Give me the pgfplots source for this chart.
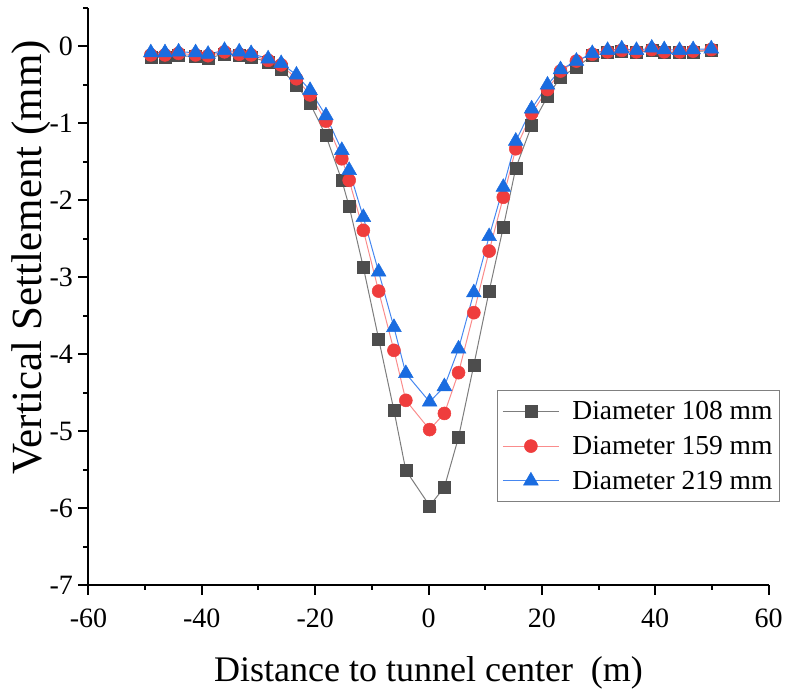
\documentclass[border=0pt]{standalone}
\usepackage{fontspec}
\setmainfont{Liberation Serif}
\usepackage{pgfplots}
\pgfplotsset{compat=1.18}

\definecolor{sqfill}{RGB}{77,77,77}
\definecolor{sqline}{RGB}{125,125,125}
\definecolor{cifill}{RGB}{239,61,61}
\definecolor{ciline}{RGB}{250,140,140}
\definecolor{trfill}{RGB}{26,108,224}
\definecolor{trline}{RGB}{70,135,240}

\begin{document}
\begin{tikzpicture}
\useasboundingbox (-88.5pt,-105pt) rectangle (696.5pt,585pt);
\begin{axis}[
  at={(0pt,0pt)}, anchor=south west,
  scale only axis, width=680pt, height=577pt,
  xmin=-60, xmax=60, ymin=-7, ymax=0.5,
  xtick={-60,-40,...,60}, ytick={-7,-6,...,0},
  minor xtick={-50,-30,...,50},
  minor ytick={-6.5,-5.5,...,0.5},
  axis x line*=bottom, axis y line*=left,
  axis line style={-, line width=2pt, black},
  tick align=outside,
  major tick length=10pt, minor tick length=5pt,
  every tick/.style={line width=2pt, black},
  /pgf/number format/assume math mode=true,
  ticklabel style={font=\fontsize{28}{28}\selectfont},
  xticklabel style={yshift=-10pt},
  yticklabel style={xshift=-2pt},
  xlabel={Distance to tunnel center\ \ (m)},
  ylabel={Vertical Settlement (mm)},
  xlabel style={font=\fontsize{36}{36}\selectfont, at={(axis description cs:0.5,-0.1681)}, anchor=base},
  ylabel style={font=\fontsize{43}{43}\selectfont, at={(axis description cs:-0.0688,0.568)}, anchor=base, rotate=0},
  legend style={at={(axis description cs:1.0169,0.338)}, anchor=north east,
    draw=gray, line width=1pt, fill=white,
    font=\fontsize{27.5}{27.5}\selectfont,
    row sep=11pt,
    /tikz/every odd column/.append style={column sep=11pt},
    cells={anchor=west}, inner xsep=5pt, inner ysep=9pt},
  legend image code/.code={\draw[mark repeat=2,mark phase=2] plot coordinates {(0pt,0pt) (28pt,0pt) (56pt,0pt)};},
  clip=false
]
\addplot[sqline, line width=1pt, mark=square*, mark size=6pt, mark options={draw=sqfill, fill=sqfill, line width=0.5pt}]
coordinates {
(-49.0,-0.14) (-46.5,-0.14) (-44.1,-0.12) (-41.1,-0.13) (-38.9,-0.15) (-36.0,-0.10)
(-33.4,-0.12) (-31.3,-0.14) (-28.3,-0.20) (-26.0,-0.30) (-23.3,-0.50) (-20.9,-0.74)
(-18.1,-1.16) (-15.3,-1.74) (-14.0,-2.08) (-11.5,-2.87) (-8.8,-3.80) (-6.1,-4.73)
(-4.0,-5.51) (0.2,-5.97) (2.8,-5.73) (5.3,-5.08) (8.0,-4.14) (10.7,-3.18)
(13.2,-2.35) (15.4,-1.58) (18.2,-1.03) (21.0,-0.65) (23.3,-0.40) (26.1,-0.27)
(28.9,-0.12) (31.6,-0.08) (34.1,-0.06) (36.7,-0.08) (39.4,-0.05) (41.6,-0.08)
(44.3,-0.08) (46.7,-0.07) (49.9,-0.05)
};
\addlegendentry{Diameter 108 mm}
\addplot[ciline, line width=1pt, mark=*, mark size=6.5pt, mark options={draw=cifill, fill=cifill, line width=0.5pt}]
coordinates {
(-49.0,-0.11) (-46.5,-0.11) (-44.1,-0.09) (-41.1,-0.11) (-38.9,-0.12) (-36.0,-0.07)
(-33.4,-0.10) (-31.3,-0.11) (-28.3,-0.18) (-26.0,-0.24) (-23.3,-0.42) (-20.9,-0.63)
(-18.1,-0.97) (-15.3,-1.46) (-14.0,-1.74) (-11.5,-2.39) (-8.8,-3.18) (-6.1,-3.95)
(-4.0,-4.60) (0.2,-4.98) (2.8,-4.77) (5.3,-4.24) (8.0,-3.46) (10.7,-2.66)
(13.2,-1.96) (15.4,-1.33) (18.2,-0.87) (21.0,-0.56) (23.3,-0.32) (26.1,-0.19)
(28.9,-0.10) (31.6,-0.07) (34.1,-0.05) (36.7,-0.07) (39.4,-0.04) (41.6,-0.07)
(44.3,-0.07) (46.7,-0.06) (49.9,-0.04)
};
\addlegendentry{Diameter 159 mm}
\addplot[trline, line width=1pt, mark=triangle*, mark size=8.5pt, mark options={draw=trfill, fill=trfill, line width=0.5pt}]
coordinates {
(-49.0,-0.08) (-46.5,-0.08) (-44.1,-0.07) (-41.1,-0.08) (-38.9,-0.10) (-36.0,-0.05)
(-33.4,-0.07) (-31.3,-0.09) (-28.3,-0.16) (-26.0,-0.22) (-23.3,-0.37) (-20.9,-0.57)
(-18.1,-0.90) (-15.3,-1.35) (-14.0,-1.61) (-11.5,-2.22) (-8.8,-2.93) (-6.1,-3.65)
(-4.0,-4.25) (0.2,-4.62) (2.8,-4.42) (5.3,-3.93) (8.0,-3.20) (10.7,-2.47)
(13.2,-1.83) (15.4,-1.23) (18.2,-0.81) (21.0,-0.50) (23.3,-0.30) (26.1,-0.19)
(28.9,-0.09) (31.6,-0.05) (34.1,-0.03) (36.7,-0.05) (39.4,-0.02) (41.6,-0.04)
(44.3,-0.05) (46.7,-0.04) (49.9,-0.03)
};
\addlegendentry{Diameter 219 mm}
\end{axis}
\end{tikzpicture}
\end{document}
